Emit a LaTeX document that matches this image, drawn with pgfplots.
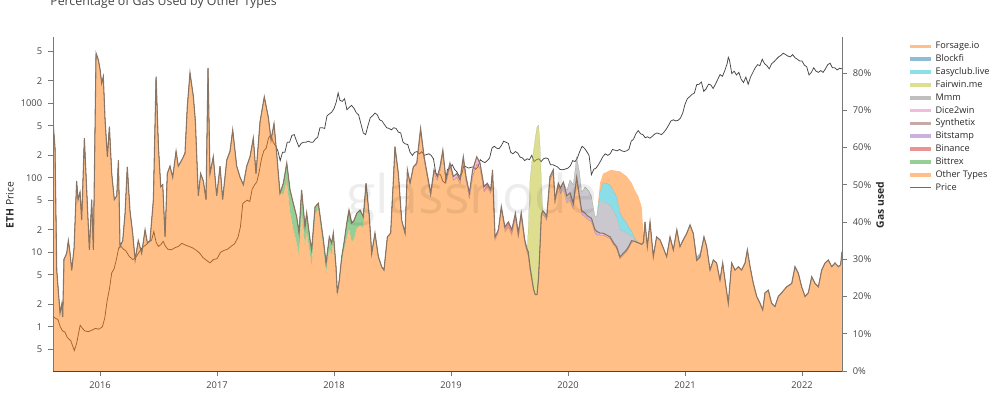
\documentclass[border=0pt]{standalone}
\usepackage{fontspec}
\setmainfont{Open Sans}
\usepackage{pgfplots}
\pgfplotsset{compat=1.18}
\usepackage{pgfplotstable}

\definecolor{dOrange}{RGB}{255,127,14}
\definecolor{dBlue}{RGB}{31,119,180}
\definecolor{dGreen}{RGB}{44,160,44}
\definecolor{dRed}{RGB}{214,39,40}
\definecolor{dPurple}{RGB}{148,103,189}
\definecolor{dBrown}{RGB}{140,86,75}
\definecolor{dPink}{RGB}{227,119,194}
\definecolor{dGray}{RGB}{127,127,127}
\definecolor{dOlive}{RGB}{188,189,34}
\definecolor{dCyan}{RGB}{23,190,207}
\definecolor{priceCol}{RGB}{70,70,70}
\definecolor{edgeCol}{RGB}{138,116,100}
\definecolor{axisGray}{RGB}{120,120,120}
\definecolor{axisDark}{RGB}{70,70,70}
\definecolor{tickText}{RGB}{68,68,68}
\definecolor{labelText}{RGB}{40,40,40}

% yr other bittrex binance bitstamp synth dice mmm fairwin easy blockfi forsage
\pgfplotstableread{
yr other bittrex binance bitstamp synth dice mmm fairwin easy blockfi forsage
2015.598 67 0 0 0 0 0 0 0 0 0 0
2015.615 60 0 0 0 0 0 0 0 0 0 0
2015.630 27 0 0 0 0 0 0 0 0 0 0
2015.658 15.6 0 0 0 0 0 0 0 0 0 0
2015.673 18 0 0 0 0 0 0 0 0 0 0
2015.681 14.5 0 0 0 0 0 0 0 0 0 0
2015.692 30 0 0 0 0 0 0 0 0 0 0
2015.715 31.6 0 0 0 0 0 0 0 0 0 0
2015.729 35 0 0 0 0 0 0 0 0 0 0
2015.744 31.6 0 0 0 0 0 0 0 0 0 0
2015.758 27 0 0 0 0 0 0 0 0 0 0
2015.778 33 0 0 0 0 0 0 0 0 0 0
2015.800 51 0 0 0 0 0 0 0 0 0 0
2015.812 46 0 0 0 0 0 0 0 0 0 0
2015.829 48 0 0 0 0 0 0 0 0 0 0
2015.843 40.5 0 0 0 0 0 0 0 0 0 0
2015.866 62.5 0 0 0 0 0 0 0 0 0 0
2015.886 48.6 0 0 0 0 0 0 0 0 0 0
2015.909 32.5 0 0 0 0 0 0 0 0 0 0
2015.929 46 0 0 0 0 0 0 0 0 0 0
2015.943 32.5 0 0 0 0 0 0 0 0 0 0
2015.966 85.3 0 0 0 0 0 0 0 0 0 0
2015.986 83.5 0 0 0 0 0 0 0 0 0 0
2016.000 81 0 0 0 0 0 0 0 0 0 0
2016.014 77.2 0 0 0 0 0 0 0 0 0 0
2016.028 79 0 0 0 0 0 0 0 0 0 0
2016.043 67.4 0 0 0 0 0 0 0 0 0 0
2016.063 57.5 0 0 0 0 0 0 0 0 0 0
2016.080 65.6 0 0 0 0 0 0 0 0 0 0
2016.100 53 0 0 0 0 0 0 0 0 0 0
2016.122 46 0 0 0 0 0 0 0 0 0 0
2016.143 47 0 0 0 0 0 0 0 0 0 0
2016.157 56.6 0 0 0 0 0 0 0 0 0 0
2016.171 33.4 0 0 0 0 0 0 0 0 0 0
2016.194 35 0 0 0 0 0 0 0 0 0 0
2016.214 42.4 0 0 0 0 0 0 0 0 0 0
2016.233 54.8 0 0 0 0 0 0 0 0 0 0
2016.256 43 0 0 0 0 0 0 0 0 0 0
2016.279 37 0 0 0 0 0 0 0 0 0 0
2016.300 29.8 0 0 0 0 0 0 0 0 0 0
2016.327 35 0 0 0 0 0 0 0 0 0 0
2016.356 31.6 0 0 0 0 0 0 0 0 0 0
2016.385 37.9 0 0 0 0 0 0 0 0 0 0
2016.405 34.3 0 0 0 0 0 0 0 0 0 0
2016.427 35 0 0 0 0 0 0 0 0 0 0
2016.456 46 0 0 0 0 0 0 0 0 0 0
2016.479 79 0 0 0 0 0 0 0 0 0 0
2016.499 60.2 0 0 0 0 0 0 0 0 0 0
2016.519 49.5 0 0 0 0 0 0 0 0 0 0
2016.536 50 0 0 0 0 0 0 0 0 0 0
2016.556 36 0 0 0 0 0 0 0 0 0 0
2016.575 53 0 0 0 0 0 0 0 0 0 0
2016.598 55 0 0 0 0 0 0 0 0 0 0
2016.621 52 0 0 0 0 0 0 0 0 0 0
2016.650 59 0 0 0 0 0 0 0 0 0 0
2016.669 55 0 0 0 0 0 0 0 0 0 0
2016.698 56.6 0 0 0 0 0 0 0 0 0 0
2016.726 58.4 0 0 0 0 0 0 0 0 0 0
2016.746 71 0 0 0 0 0 0 0 0 0 0
2016.769 80 0 0 0 0 0 0 0 0 0 0
2016.798 73.6 0 0 0 0 0 0 0 0 0 0
2016.815 67 0 0 0 0 0 0 0 0 0 0
2016.840 47 0 0 0 0 0 0 0 0 0 0
2016.860 53 0 0 0 0 0 0 0 0 0 0
2016.883 51 0 0 0 0 0 0 0 0 0 0
2016.906 46 0 0 0 0 0 0 0 0 0 0
2016.923 81.3 0 0 0 0 0 0 0 0 0 0
2016.940 53 0 0 0 0 0 0 0 0 0 0
2016.968 57.5 0 0 0 0 0 0 0 0 0 0
2016.997 47 0 0 0 0 0 0 0 0 0 0
2017.026 55 0 0 0 0 0 0 0 0 0 0
2017.048 46 0 0 0 0 0 0 0 0 0 0
2017.083 56.6 0 0 0 0 0 0 0 0 0 0
2017.111 59 0 0 0 0 0 0 0 0 0 0
2017.134 64.7 0 0 0 0 0 0 0 0 0 0
2017.168 55 0 0 0 0 0 0 0 0 0 0
2017.197 52 0 0 0 0 0 0 0 0 0 0
2017.225 50 0 0 0 0 0 0 0 0 0 0
2017.254 55 0 0 0 0 0 0 0 0 0 0
2017.282 57.5 0 0 0 0 0 0 0 0 0 0
2017.310 62.5 0 0 0 0 0 0 0 0 0 0
2017.333 53 0 0 0 0 0 0 0 0 0 0
2017.368 67 0 0 0 0 0 0 0 0 0 0
2017.404 73.6 0 0 0 0 0 0 0 0 0 0
2017.439 68 0 0 0 0 0 0 0 0 0 0
2017.462 62 0 0 0 0 0 0 0 0 0 0
2017.487 66.4 0 0 0 0 0 0 0 0 0 0
2017.510 58.4 0 0 0 0 0 0 0 0 0 0
2017.538 47.7 0 0 0 0 0 0 0 0 0 0
2017.567 47.4 3 0 0 0 0 0 0 0 0 0
2017.596 50.8 5 0 0 0 0 0 0 0 0 0
2017.624 42.6 6 0 0 0 0 0 0 0 0 0
2017.652 38 7 0 0 0 0 0 0 0 0 0
2017.681 34.4 7 0 0 0 0 0 0 0 0 0
2017.701 31 6 0 0 0 0 0 0 0 0 0
2017.723 42.6 6 0 0 0 0 0 0 0 0 0
2017.752 33.7 5 0 0 0 0 0 0 0 0 0
2017.766 37.4 5 0 0 0 0 0 0 0 0 0
2017.795 31.2 4 0 0 0 0 0 0 0 0 0
2017.809 28.5 4 0 0 0 0 0 0 0 0 0
2017.838 42.1 2 0 0 0 0 0 0 0 0 0
2017.866 43.5 1.5 0 0 0 0 0 0 0 0 0
2017.909 33.2 2 0 0 0 0 0 0 0 0 0
2017.932 26 3 0 0 0 0 0 0 0 0 0
2017.960 33 3 0 0 0 0 0 0 0 0 0
2017.980 31.3 3 0 0 0 0 0 0 0 0 0
2017.994 35 2 0 0 0 0 0 0 0 0 0
2018.017 26.5 1.5 0 0 0 0 0 0 0 0 0
2018.028 19.9 1 0 0 0 0 0 0 0 0 0
2018.045 23.4 1 0 0 0 0 0 0 0 0 0
2018.066 29.2 1.5 0 0 0 0 0 0 0 0 0
2018.085 32.3 2 0 0 0 0 0 0 0 0 0
2018.109 35.7 4 0 0 0 0 0 0 0 0 0
2018.128 38.2 5 0 0 0 0 0 0 0 0 0
2018.151 34.7 5 0 0 0 0 0 0 0 0 0
2018.171 35.4 5 0 0 0 0 0 0 0 0 0
2018.194 38.3 4 0 0 0 0 0 0 0 0 0
2018.222 39.2 4 0 0 0 0 0 0 0 0 0
2018.250 38.4 3 0 0 0 0 0 0 0 0 0
2018.274 48.4 2 0 0 0 0 0 0 0 0 0
2018.302 39.9 1.5 0 0 0 0 0 0 0 0 0
2018.322 30.6 1 0 0 0 0 0 0 0 0 0
2018.350 36 1 0 0 0 0 0 0 0 0 0
2018.379 30.2 0.5 0 0 0 0 0 0 0 0 0
2018.407 27.5 0.5 0 0 0 0 0 0 0 0 0
2018.427 27.1 0 0 0 0 0 0 0 0 0 0
2018.456 36 0 0 0 0 0 0 0 0 0 0
2018.484 37 0 0 0 0 0 0 0 0 0 0
2018.506 50.4 0 0 0 0 0 0 0 0 0 0
2018.521 60.2 0 0 0 0 0 0 0 0 0 0
2018.550 53 0 0 0 0 0 0 0 0 0 0
2018.578 40.5 0 0 0 0 0 0 0 0 0 0
2018.607 37 0 0 0 0 0 0 0 0 0 0
2018.627 54 0 0 0 0 0 0 0 0 0 0
2018.650 50.4 0 0 0 0 0 0 0 0 0 0
2018.678 54.8 0 0 0 0 0 0 0 0 0 0
2018.707 55.3 0 0 0 0 0.5 0 0 0 0 0
2018.740 64.3 0 0 0 0 0.8 0 0 0 0 0
2018.770 56.7 0 0 0 0 0.8 0 0 0 0 0
2018.790 53.2 0 0 0 0 0.8 0 0 0 0 0
2018.826 46.7 0 0 0 0 1 0 0 0 0 0
2018.855 53 0 0 0 0 1 0 0 0 0 0
2018.883 51.2 0 0 0 0 1 0 0 0 0 0
2018.906 53.8 0 0 0 0 1 0 0 0 0 0
2018.930 58.3 0 0 0 0 1 0 0 0 0 0
2018.957 50.3 0 0 0 0 1 0 0 0 0 0
2018.991 54.8 0 0 0 0 1 0 0 0 0 0
2019.020 51.2 0 0 0 0 1 0 0 0 0 0
2019.049 52 0 0 0 0 1 0 0 0 0 0
2019.077 50.3 0 0 0 0 1 0 0 0 0 0
2019.105 56.3 0 0 0 0 1.2 0 0 0 0 0
2019.128 51 0 0 0 0 1.2 0 0 0 0 0
2019.157 46.2 0 0 0 0 1.5 0 0 0 0 0
2019.185 52 0 0 0 0 2 0 0 0 0 0
2019.220 55.5 0 0 0 0 2 0 0 0 0 0
2019.248 54.3 0 0 0 0 1.5 0 0 0 0 0
2019.282 48 0 0.5 0 0 1 0 0 0 0 0
2019.310 49.1 0 0.8 0 0 0.5 0 0 0 0 0
2019.340 47.6 0 1 0 0 0 0 0 0 0 0
2019.355 53 0 1 0 0 0 0 0 0 0 0
2019.376 35 0 1 0 0 0 0 0 0 0 0
2019.405 36.9 0 1 0 0 0 0 0 0 0 0
2019.430 43.1 0 1 0 0 0 0 0 0 0 0
2019.460 37.2 0 1 0 0.5 0 0 0 0 0 0
2019.490 38.5 0 1 0 0.5 0 0 0 0 0 0
2019.520 36.3 0 0.8 0 0.8 0 0 0 0 0 0
2019.550 40.7 0 0.8 0 0.8 0 0 0 0 0 0
2019.575 35.5 0 0.5 0 1 0 0 0 0 0 0
2019.600 40.9 0 0.5 0 1 0 0 0 0 0 0
2019.630 34.2 0 0 0 1 0 0 0 0 0 0
2019.652 31.5 0 0 0 1 0 0 0 0 0 0
2019.660 31 0 0 0 1 0 0 6 0 0 0
2019.675 27 0 0 0 1 0 0 23 0 0 0
2019.690 24.5 0 0 0 0.5 0 0 31 0 0 0
2019.705 22 0 0 0 0 0 0 37 0 0 0
2019.720 20.5 0 0 0 0 0 0 42 0 0 0
2019.735 20.5 0 0 0 0 0 0 45 0 0 0
2019.748 25 0 0 0 0 0 0 41 0 0 0
2019.760 33 0 0 0 0 0 0 28 0 0 0
2019.772 41.5 0 0 0 0.5 0 0 9 0 0 0
2019.785 42 0 0 0 1 0 0 0 0 0 0
2019.803 41.3 0 0 0 1 0 0 0 0 0 0
2019.818 40.4 0 0 0 1 0 0 0 0 0 0
2019.846 51.2 0 0 0 1 0 0 0 0 0 0
2019.874 53 0 0 0 1 0 0 0 0 0 0
2019.889 44.9 0 0 0 1 0 0 0 0 0 0
2019.917 49.4 0 0 0 1 0 0 0 0 0 0
2019.935 47.6 0 0 0 1 0.5 0 0 0 0 0
2019.960 48.7 0 0 0.5 1 0.5 0 0 0 0 0
2019.990 45 0 0 0.5 1 0.5 1.5 0 0 0 0
2020.017 45.8 0 0 0.5 1 0.5 3.5 0 0 0 0
2020.045 43.5 0 0 0.5 0.5 0.5 5 0 0 0 0
2020.074 51 0 0 0.5 0 0.5 5.5 0 0 0 0
2020.097 46 0 0 0.5 0 0.5 6.5 0 0 0 0
2020.117 42 0 0 0.5 0 0.5 5 0 0 0 0
2020.145 41.4 0 0 0.5 0 0.5 7 0 0 0 0
2020.174 40.5 0 0 0.5 0 0.5 7 0 0 0 0
2020.200 40 0 0 0.5 0 0.5 6 0 0 0 0
2020.230 37 0 0 0.5 0 0.5 3.5 0 0 0 0
2020.245 36.5 0 0 0.5 0 0.5 4 0 0 0 0
2020.274 36.5 0 0 0 0 0.5 8.5 0 2.5 0 2.5
2020.300 36.5 0 0 0 0 0.5 8.5 0 5 0 2.5
2020.330 36 0 0 0 0 0.5 8.5 0 5.4 0 3
2020.360 35.5 0 0 0 0 0.5 8.5 0 5.4 0 4
2020.387 34 0 0 0 0 0.5 8.5 0 5.4 0 5.5
2020.416 32.8 0 0 0 0 0.5 8 0 5.4 0 7
2020.444 30.1 0 0 0 0 0.5 7.5 0 4.5 0 11
2020.470 31 0 0 0 0 0.5 6 0 3.5 0 12
2020.500 32 0 0 0 0 0.5 4.6 0 2.7 0 12.5
2020.520 33 0 0 0 0 0.5 3 0 2 0 13
2020.544 34.5 0 0 0 0 0.5 1.5 0 1 0 13
2020.570 34.8 0 0 0 0 0 0.5 0 0.3 0 13
2020.600 34.4 0 0 0 0 0 0 0 0 0 12.6
2020.630 34 0 0 0 0 0 0 0 0 0 10
2020.645 34.5 0 0 0 0 0 0 0 0 0 2
2020.658 40 0 0 0 0 0 0 0 0 0 0
2020.678 33.4 0 0 0 0 0 0 0 0 0 0
2020.701 40 0 0 0 0 0 0 0 0 0 0
2020.729 30.7 0 0 0 0 0 0 0 0 0 0
2020.757 36 0 0 0 0 0 0 0 0 0 0
2020.786 35.2 0 0 0 0 0 0 0 0 0 0
2020.810 33.4 0 0 0 0 0 0 0 0 0 0
2020.843 30.7 0 0 0 0 0 0 0 0 0 0
2020.872 36 0 0 0 0 0 0 0 0 0 0
2020.900 32.5 0 0 0 0 0 0 0 0 0 0
2020.930 37.9 0 0 0 0 0 0 0 0 0 0
2020.957 33.4 0 0 0 0 0 0 0 0 0 0
2020.985 35.2 0 0 0 0 0 0 0 0 0 0
2021.014 36.9 0 0 0 0 0 0 0 0 0 0
2021.043 39.2 0 0 0 0 0 0 0 0 0 0
2021.071 36.9 0 0 0 0 0 0 0 0 0 0
2021.100 29.7 0 0 0 0 0 0 0 0 1 0
2021.128 30.6 0 0 0 0 0 0 0 0 1 0
2021.162 36 0 0 0 0 0 0 0 0 0 0
2021.185 33.4 0 0 0 0 0 0 0 0 0 0
2021.214 27.1 0 0 0 0 0 0 0 0 0 0
2021.242 29.8 0 0 0 0 0 0 0 0 0 0
2021.270 29 0 0 0 0 0 0 0 0 0 0
2021.299 24.4 0 0 0 0 0 0 0 0 0 0
2021.322 29 0 0 0 0 0 0 0 0 0 0
2021.350 22.6 0 0 0 0 0 0 0 0 0 0
2021.370 18.2 0 0 0 0 0 0 0 0 0 0
2021.399 29 0 0 0 0 0 0 0 0 0 0
2021.427 27.1 0 0 0 0 0 0 0 0 0 0
2021.456 28 0 0 0 0 0 0 0 0 0 0
2021.484 27.1 0 0 0 0 0 0 0 0 0 0
2021.513 29 0 0 0 0 0 0 0 0 0 0
2021.533 32.5 0 0 0 0 0 0 0 0 0 0
2021.556 28 0 0 0 0 0 0 0 0 0 0
2021.584 23.5 0 0 0 0 0 0 0 0 0 0
2021.613 20 0 0 0 0 0 0 0 0 0 0
2021.641 18.2 0 0 0 0 0 0 0 0 0 0
2021.664 16.4 0 0 0 0 0 0 0 0 0 0
2021.684 21 0 0 0 0 0 0 0 0 0 0
2021.712 21.7 0 0 0 0 0 0 0 0 0 0
2021.740 18.2 0 0 0 0 0 0 0 0 0 0
2021.769 17.3 0 0 0 0 0 0 0 0 0 0
2021.797 20 0 0 0 0 0 0 0 0 0 0
2021.826 21 0 0 0 0 0 0 0 0 0 0
2021.869 22.6 0 0 0 0 0 0 0 0 0 0
2021.912 23.5 0 0 0 0 0 0 0 0 0 0
2021.940 28 0 0 0 0 0 0 0 0 0 0
2021.969 26.2 0 0 0 0 0 0 0 0 0 0
2021.997 22.6 0 0 0 0 0 0 0 0 0 0
2022.026 20 0 0 0 0 0 0 0 0 0 0
2022.054 21 0 0 0 0 0 0 0 0 0 0
2022.083 25.3 0 0 0 0 0 0 0 0 0 0
2022.111 23.5 0 0 0 0 0 0 0 0 0 0
2022.140 22.6 0 0 0 0 0 0 0 0 0 0
2022.168 27.1 0 0 0 0 0 0 0 0 0 0
2022.197 29 0 0 0 0 0 0 0 0 0 0
2022.225 29.8 0 0 0 0 0 0 0 0 0 0
2022.254 28 0 0 0 0 0 0 0 0 0 0
2022.282 29 0 0 0 0 0 0 0 0 0 0
2022.311 28 0 0 0 0 0 0 0 0 0 0
2022.330 28.5 0 0 0 0 0 0 0 0 0 0
2022.342 32 0 0 0 0 0 0 0 0 0 0
}\gasdata

\pgfplotstableread{
yr price
2015.598 1.37
2015.620 1.30
2015.640 1.25
2015.660 1.0
2015.680 0.88
2015.700 0.85
2015.720 0.72
2015.750 0.65
2015.780 0.48
2015.800 0.60
2015.830 1.05
2015.850 0.95
2015.870 0.88
2015.900 0.86
2015.930 0.90
2015.960 0.95
2015.990 0.93
2016.020 1.0
2016.040 1.3
2016.060 2.2
2016.080 3.2
2016.100 5.3
2016.120 6.0
2016.140 8.0
2016.160 11.5
2016.180 12.0
2016.200 11.0
2016.220 10.5
2016.250 8.8
2016.280 8.0
2016.300 8.3
2016.330 9.8
2016.360 11.5
2016.390 12.5
2016.420 13.8
2016.440 14.5
2016.460 19.0
2016.480 13.5
2016.500 12.0
2016.520 12.7
2016.540 14.0
2016.560 12.0
2016.580 11.0
2016.610 10.8
2016.640 11.5
2016.670 12.0
2016.700 13.2
2016.730 12.5
2016.760 12.0
2016.790 11.5
2016.820 10.7
2016.850 9.8
2016.880 8.5
2016.910 7.8
2016.940 7.2
2016.970 8.0
2017.000 8.2
2017.030 10.0
2017.060 10.6
2017.090 11.0
2017.120 12.0
2017.150 13.0
2017.180 16.0
2017.200 22.0
2017.220 45.0
2017.240 48.0
2017.260 50.0
2017.280 48.0
2017.300 70.0
2017.320 80.0
2017.340 88.0
2017.360 120.0
2017.380 180.0
2017.400 230.0
2017.420 250.0
2017.440 340.0
2017.460 380.0
2017.480 300.0
2017.500 270.0
2017.520 230.0
2017.540 170.0
2017.560 220.0
2017.580 220.0
2017.600 300.0
2017.620 300.0
2017.640 370.0
2017.660 380.0
2017.680 310.0
2017.700 260.0
2017.720 290.0
2017.740 300.0
2017.760 300.0
2017.780 310.0
2017.800 300.0
2017.820 300.0
2017.840 330.0
2017.860 350.0
2017.880 470.0
2017.900 470.0
2017.920 460.0
2017.940 680.0
2017.960 720.0
2017.980 760.0
2018.000 850.0
2018.020 1050
2018.035 1380
2018.050 1100
2018.070 1060
2018.090 1150
2018.110 820
2018.130 880
2018.150 940
2018.170 860
2018.190 750
2018.210 700
2018.230 530
2018.250 400
2018.270 380
2018.290 500
2018.310 640
2018.330 680
2018.350 740
2018.370 700
2018.390 600
2018.410 580
2018.430 520
2018.450 470
2018.470 460
2018.490 440
2018.510 470
2018.530 460
2018.550 410
2018.570 400
2018.590 300
2018.610 285
2018.630 280
2018.650 220
2018.670 200
2018.690 220
2018.710 225
2018.730 210
2018.750 225
2018.770 200
2018.790 205
2018.810 210
2018.830 200
2018.850 180
2018.870 115
2018.890 110
2018.910 110
2018.930 90
2018.950 85
2018.970 130
2018.990 135
2019.010 150
2019.030 130
2019.050 120
2019.070 105
2019.090 110
2019.110 145
2019.130 140
2019.150 135
2019.170 138
2019.190 140
2019.210 130
2019.230 140
2019.250 175
2019.270 165
2019.290 160
2019.310 170
2019.330 185
2019.350 250
2019.370 265
2019.390 250
2019.410 245
2019.430 270
2019.450 310
2019.470 300
2019.490 290
2019.510 220
2019.530 210
2019.550 225
2019.570 215
2019.590 190
2019.610 185
2019.630 170
2019.650 180
2019.670 175
2019.690 200
2019.710 165
2019.730 175
2019.750 180
2019.770 165
2019.790 180
2019.810 185
2019.830 180
2019.850 150
2019.870 150
2019.890 145
2019.910 140
2019.930 130
2019.950 128
2019.970 130
2020.000 135
2020.020 145
2020.040 170
2020.060 165
2020.080 185
2020.100 225
2020.120 265
2020.140 250
2020.160 225
2020.180 200
2020.200 110
2020.220 130
2020.240 135
2020.260 150
2020.280 170
2020.300 195
2020.320 210
2020.340 200
2020.360 210
2020.380 240
2020.400 235
2020.420 230
2020.440 240
2020.460 230
2020.480 225
2020.500 230
2020.520 240
2020.540 310
2020.560 330
2020.580 390
2020.600 430
2020.620 390
2020.640 380
2020.660 345
2020.680 355
2020.700 340
2020.720 360
2020.740 385
2020.760 400
2020.780 390
2020.800 380
2020.820 410
2020.840 450
2020.860 510
2020.880 580
2020.900 600
2020.920 580
2020.940 590
2020.960 630
2020.980 735
2021.000 970
2021.020 1150
2021.040 1230
2021.060 1320
2021.080 1370
2021.100 1780
2021.120 1800
2021.140 1930
2021.160 1450
2021.180 1560
2021.200 1800
2021.220 1770
2021.240 1580
2021.260 1800
2021.280 2100
2021.300 2430
2021.320 2300
2021.340 2750
2021.360 3400
2021.370 4150
2021.380 3800
2021.400 2500
2021.420 2700
2021.440 2400
2021.460 2600
2021.480 2100
2021.500 1900
2021.520 2250
2021.540 1800
2021.560 2250
2021.580 2600
2021.600 3000
2021.620 3300
2021.640 3200
2021.660 3900
2021.680 3400
2021.700 3200
2021.720 2900
2021.740 3400
2021.760 3600
2021.780 3900
2021.800 4200
2021.820 4400
2021.840 4700
2021.860 4500
2021.880 4300
2021.900 4200
2021.920 4500
2021.940 4100
2021.960 3900
2021.980 3700
2022.000 3700
2022.020 3250
2022.040 3100
2022.060 2400
2022.080 2600
2022.100 3000
2022.120 2700
2022.140 2600
2022.160 2750
2022.180 2600
2022.200 2900
2022.220 3300
2022.240 3450
2022.260 3000
2022.280 3000
2022.300 2800
2022.320 2950
2022.342 2900
}\pricedata

\pgfplotsset{
  common/.style={
    at={(31.8pt,13.8pt)}, anchor=south west, scale only axis,
    width=473.4pt, height=200.4pt,
    xmin=2015.598, xmax=2022.342,
    tick align=outside, major tick length=3pt,
    tick style={axisGray, line width=0.5pt},
    ticklabel style={font=\fontsize{5.6}{6.5}\selectfont, text=tickText},
    /pgf/number format/assume math mode=true,
  },
}

\begin{document}
\begin{tikzpicture}
\path[use as bounding box] (0pt,0pt) rectangle (600pt,236.4pt);

% price axis (left, log)
\begin{axis}[common,
  ymode=log, ymin=0.255, ymax=7762,
  axis x line=none, axis y line*=left,
  axis line style={axisGray, line width=0.5pt},
  ytick={0.5,1,2,5,10,20,50,100,200,500,1000,2000,5000},
  yticklabels={5,1,2,5,10,2,5,100,2,5,1000,2,5},
  yminorticks=false,
  ylabel={\textbf{ETH} Price},
  ylabel style={at={(axis description cs:-0.0545,0.497)}, anchor=center, font=\fontsize{6.2}{7}\selectfont, text=labelText},
]
\addplot[priceCol, line width=0.45pt] table[x=yr, y=price]{\pricedata};
\end{axis}

% gas share axis (right, stacked areas)
\begin{axis}[common,
  ymin=0, ymax=89.66,
  stack plots=y,
  axis on top,
  axis x line*=bottom, axis y line*=right,
  x axis line style={axisDark, line width=0.6pt},
  y axis line style={axisGray, line width=0.5pt},
  xtick={2016,2017,2018,2019,2020,2021,2022},
  xticklabels={2016,2017,2018,2019,2020,2021,2022},
  ytick={0,10,20,30,40,50,60,70,80},
  yticklabels={0\%,10\%,20\%,30\%,40\%,50\%,60\%,70\%,80\%},
  ylabel={\textbf{Gas used}},
  ylabel style={at={(axis description cs:1.048,0.497)}, anchor=center, font=\fontsize{6.2}{7}\selectfont, text=labelText},
]
\addplot[draw=none, fill=dOrange, fill opacity=0.5] table[x=yr, y=other]{\gasdata} \closedcycle;
\addplot[draw=none, fill=dGreen, fill opacity=0.5] table[x=yr, y=bittrex]{\gasdata} \closedcycle;
\addplot[draw=none, fill=dRed, fill opacity=0.5] table[x=yr, y=binance]{\gasdata} \closedcycle;
\addplot[draw=none, fill=dPurple, fill opacity=0.5] table[x=yr, y=bitstamp]{\gasdata} \closedcycle;
\addplot[draw=none, fill=dBrown, fill opacity=0.5] table[x=yr, y=synth]{\gasdata} \closedcycle;
\addplot[draw=none, fill=dPink, fill opacity=0.5] table[x=yr, y=dice]{\gasdata} \closedcycle;
\addplot[draw=none, fill=dGray!80!dPurple, fill opacity=0.42] table[x=yr, y=mmm]{\gasdata} \closedcycle;
\addplot[draw=none, fill=dOlive, fill opacity=0.5] table[x=yr, y=fairwin]{\gasdata} \closedcycle;
\addplot[draw=none, fill=dCyan, fill opacity=0.5] table[x=yr, y=easy]{\gasdata} \closedcycle;
\addplot[draw=none, fill=dBlue, fill opacity=0.5] table[x=yr, y=blockfi]{\gasdata} \closedcycle;
\addplot[draw=none, fill=dOrange, fill opacity=0.5] table[x=yr, y=forsage]{\gasdata} \closedcycle;
\end{axis}

% edge line, left axis line and legend
\begin{axis}[common,
  ymin=0, ymax=89.66,
  axis x line=none, axis y line*=left, ytick=\empty,
  axis line style={axisGray, line width=0.5pt},
  legend style={at={(1.0837,0.992)}, anchor=north west, draw=none, fill=none,
    inner sep=0pt, row sep=0pt,
    font=\fontsize{5.5}{6.5}\selectfont, text=labelText,
    nodes={inner xsep=1.5pt, inner ysep=1.1pt, text height=4.2pt, text depth=1.3pt}},
  legend cell align=left,
  legend image code/.code={\draw[#1] (0pt,0pt) -- (12.6pt,0pt);},
]
\addlegendimage{line width=2.2pt, color=dOrange!50!white}
\addlegendentry{Forsage.io}
\addlegendimage{line width=2.2pt, color=dBlue!50!white}
\addlegendentry{Blockfi}
\addlegendimage{line width=2.2pt, color=dCyan!50!white}
\addlegendentry{Easyclub.live}
\addlegendimage{line width=2.2pt, color=dOlive!50!white}
\addlegendentry{Fairwin.me}
\addlegendimage{line width=2.2pt, color=dGray!50!white}
\addlegendentry{Mmm}
\addlegendimage{line width=2.2pt, color=dPink!50!white}
\addlegendentry{Dice2win}
\addlegendimage{line width=2.2pt, color=dBrown!50!white}
\addlegendentry{Synthetix}
\addlegendimage{line width=2.2pt, color=dPurple!50!white}
\addlegendentry{Bitstamp}
\addlegendimage{line width=2.2pt, color=dRed!50!white}
\addlegendentry{Binance}
\addlegendimage{line width=2.2pt, color=dGreen!50!white}
\addlegendentry{Bittrex}
\addlegendimage{line width=2.2pt, color=dOrange!50!white}
\addlegendentry{Other Types}
\addlegendimage{line width=0.5pt, color=priceCol!80!white}
\addlegendentry{Price}
\addplot[forget plot, edgeCol, line width=0.65pt] table[x=yr, y expr=\thisrow{other}+\thisrow{bittrex}+\thisrow{binance}+\thisrow{bitstamp}+\thisrow{synth}+\thisrow{dice}]{\gasdata};
\end{axis}

% watermark
\node[font=\fontsize{32}{32}\selectfont, text=black, text opacity=0.07] at (283pt,116.4pt) {glassnode};
% title (cut by top edge as in the reference)
\node[anchor=base west, inner sep=0pt, font=\fontsize{7.4}{9}\selectfont, text=tickText] at (30pt,233.0pt) {Percentage of Gas Used by Other Types};
\end{tikzpicture}
\end{document}
